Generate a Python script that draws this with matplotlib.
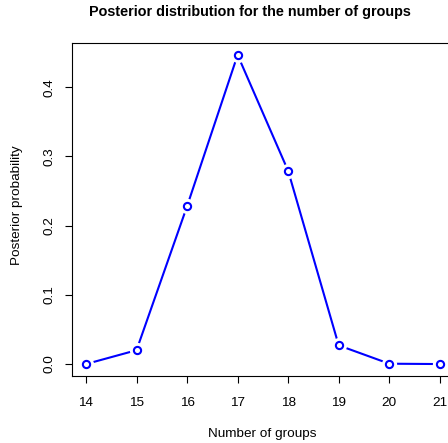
import matplotlib
matplotlib.use('Agg')
import matplotlib.pyplot as plt

# posterior for the number of groups
n_groups = [14, 15, 16, 17, 18, 19, 20, 21]
post_prob = [0.0, 0.020, 0.228, 0.4465, 0.279, 0.027, 0.0005, 0.0]
y_ticks = [0.0, 0.1, 0.2, 0.3, 0.4]

plt.rcParams['font.family'] = ['Liberation Sans', 'DejaVu Sans']
fs = 9.7

fig = plt.figure(figsize=(4.48, 4.43), dpi=100)
# plot region runs a little past the right edge, as in the reference
ax = fig.add_axes([0.1603, 0.1503, 0.853, 0.7535])

# R type="b": line with gaps around open circles
ax.plot(n_groups, post_prob, color='#0000ff', lw=1.5, zorder=2, clip_on=False)
ax.plot(n_groups, post_prob, ls='none', marker='o', ms=11, mfc='white', mec='none',
        zorder=3, clip_on=False)
ax.plot(n_groups, post_prob, ls='none', marker='o', ms=5.2, mfc='white', mec='#0000ff',
        mew=1.5, zorder=4, clip_on=False)

pad_x = 0.04 * (max(n_groups) - min(n_groups))
pad_y = 0.04 * (max(post_prob) - min(post_prob))
ax.set_xlim(min(n_groups) - pad_x, max(n_groups) + pad_x)
ax.set_ylim(min(post_prob) - pad_y, max(post_prob) + pad_y)

ax.set_xticks(n_groups)
ax.set_xticklabels([str(v) for v in n_groups], fontsize=fs)
ax.set_yticks(y_ticks)
ax.set_yticklabels(['%.1f' % v for v in y_ticks], rotation=90, va='center', fontsize=fs)
ax.tick_params(axis='both', direction='out', length=5, width=0.8, colors='black')
ax.tick_params(axis='x', pad=10)
ax.tick_params(axis='y', pad=7)
for s in ax.spines.values():
    s.set_linewidth(0.8)
    s.set_color('black')

fig.text(0.557, 0.972, 'Posterior distribution for the number of groups',
         ha='center', va='center', fontsize=10.4, fontweight='bold')
fig.text(0.585, 0.021, 'Number of groups', ha='center', va='center', fontsize=fs)
fig.text(0.037, 0.537, 'Posterior probability', ha='center', va='center',
         rotation=90, fontsize=fs)

fig.savefig('out.png', dpi=100)
